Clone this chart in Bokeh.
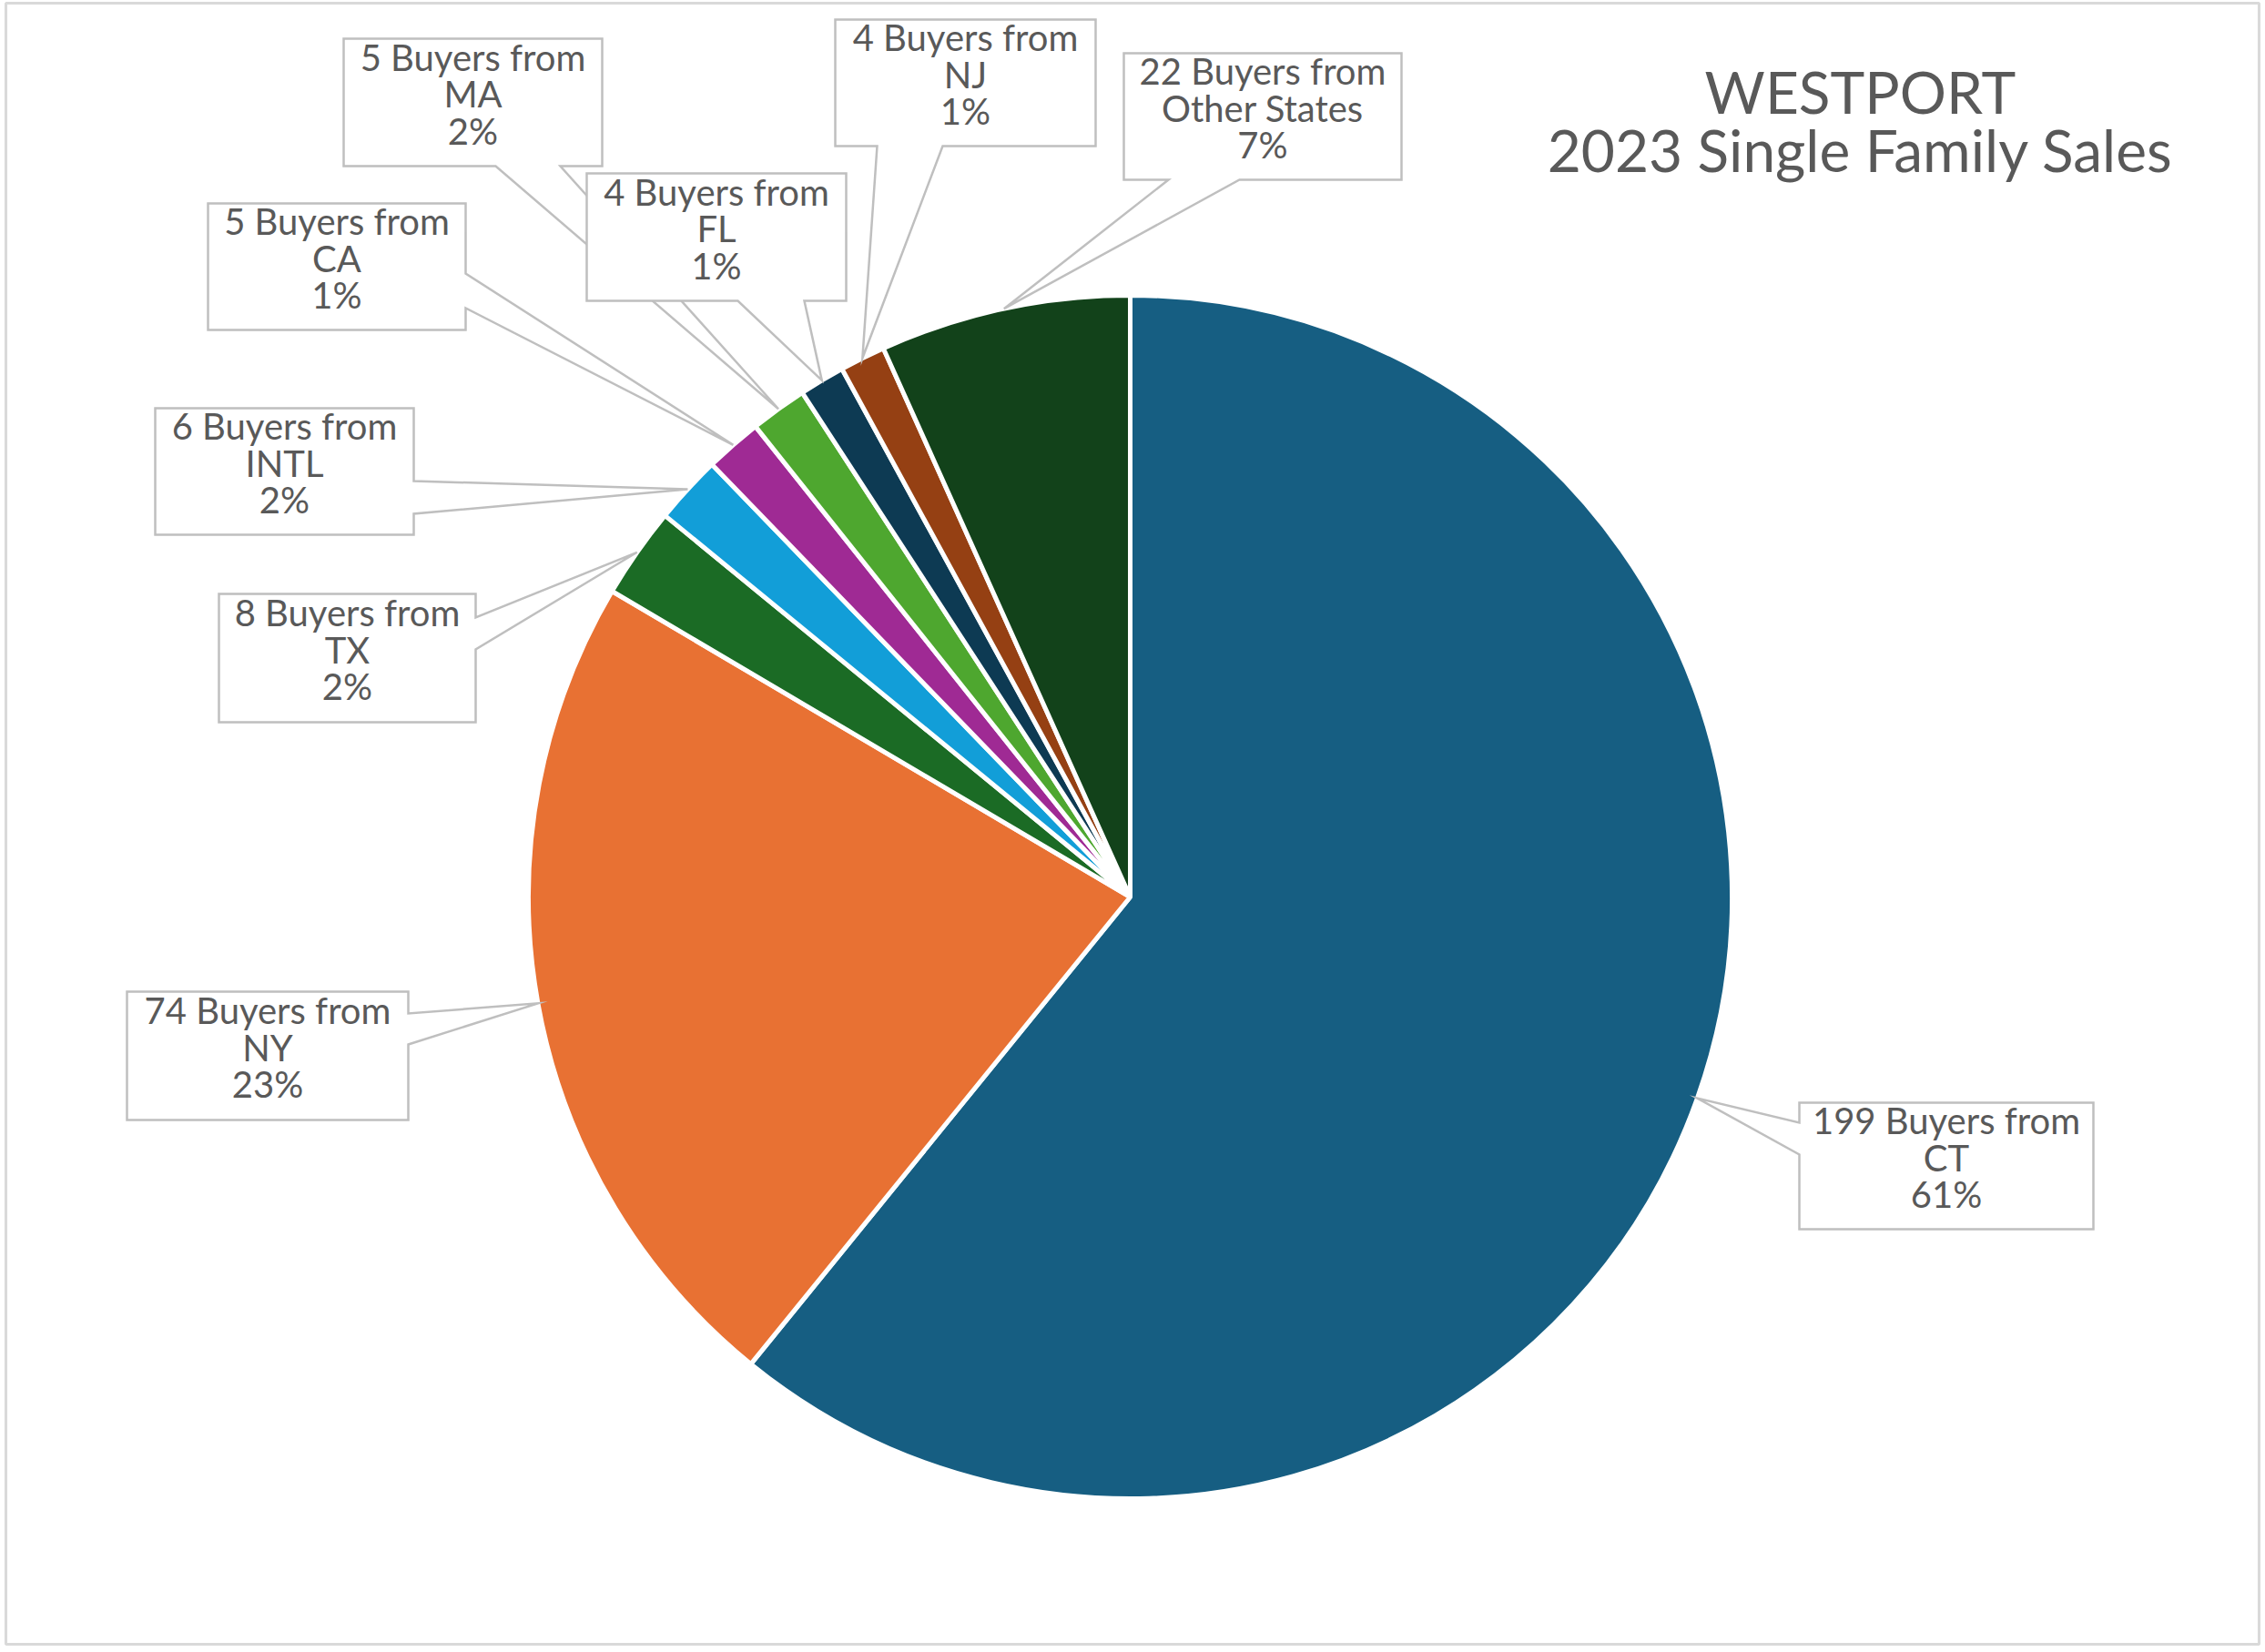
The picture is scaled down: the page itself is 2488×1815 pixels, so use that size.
import numpy as np
from bokeh.plotting import figure
from bokeh.models import Range1d, ColumnDataSource
from bokeh.core.properties import value
from bokeh.embed import file_html
from bokeh.resources import INLINE

# ---------------- data ----------------
regions = ["CT", "NY", "TX", "INTL", "CA", "MA", "FL", "NJ", "Other States"]
buyers = [199, 74, 8, 6, 5, 5, 4, 4, 22]
pct_labels = ["61%", "23%", "2%", "2%", "1%", "2%", "1%", "1%", "7%"]
colors = ["#165E82", "#E87133", "#1B6B25", "#129ED8", "#9F2A94",
          "#4EA72F", "#0D3A53", "#954013", "#12421A"]
title_lines = ["WESTPORT", "2023 Single Family Sales"]

# ---------------- layout (pixel coords, origin top-left) ----------------
W, H = 2488, 1815
CX, CY, R = 1241, 985, 661
FONT = "Lato"
TEXT_COLOR = "#595959"
BOX_COLOR = "#BFBFBF"

# box: (x0, y0, x1, y1), side of pointer, two attach coords
callouts = {
    "CT": ((1976, 1211, 2299, 1350), "left", (1233, 1268)),
    "NY": ((139, 1089, 448, 1230), "right", (1113, 1147)),
    "TX": ((240, 652, 522, 793), "right", (678, 713)),
    "INTL": ((170, 448, 454, 587), "right", (528, 564)),
    "CA": ((228, 223, 511, 362), "right", (300, 338)),
    "MA": ((377, 42, 661, 182), "bottom", (544, 615)),
    "FL": ((644, 190, 929, 330), "bottom", (810, 883)),
    "NJ": ((917, 21, 1203, 160), "bottom", (963, 1035)),
    "Other States": ((1234, 58, 1539, 197), "bottom", (1283, 1361)),
}
draw_order = ["CT", "NY", "TX", "INTL", "CA", "MA", "FL", "NJ", "Other States"]


def fy(py):
    return H - py


p = figure(width=W, height=H, output_backend="svg", toolbar_location=None,
           x_range=Range1d(0, W), y_range=Range1d(0, H), min_border=0,
           match_aspect=False)
p.axis.visible = False
p.grid.visible = False
p.outline_line_color = None
p.background_fill_color = "white"
p.border_fill_color = "white"

# outer chart border
p.quad(left=[6], right=[2481], top=[fy(3)], bottom=[fy(1806)],
       fill_color=None, line_color="#D9D9D9", line_width=3)

# ---------------- pie ----------------
vals = np.array(buyers, dtype=float)
frac = vals / vals.sum()
cum_end = np.cumsum(frac)
cum_start = cum_end - frac
start_angle = np.pi / 2 - cum_end * 2 * np.pi
end_angle = np.pi / 2 - cum_start * 2 * np.pi
mid = (cum_start + cum_end) / 2 * 2 * np.pi  # clockwise from 12 o'clock

src = ColumnDataSource(dict(x=[CX] * len(vals), y=[fy(CY)] * len(vals),
                            start=start_angle, end=end_angle, color=colors,
                            region=regions))
p.wedge(x="x", y="y", radius=R, start_angle="start", end_angle="end",
        fill_color="color", line_color="white", line_width=5, source=src)

# ---------------- callouts ----------------
tips = {reg: (CX + R * np.sin(m), CY - R * np.cos(m)) for reg, m in zip(regions, mid)}

for reg in draw_order:
    (x0, y0, x1, y1), side, (a1, a2) = callouts[reg]
    tx, ty = tips[reg]
    if side == "right":
        pts = [(x0, y0), (x1, y0), (x1, a1), (tx, ty), (x1, a2), (x1, y1), (x0, y1)]
    elif side == "left":
        pts = [(x0, y0), (x1, y0), (x1, y1), (x0, y1), (x0, a2), (tx, ty), (x0, a1)]
    else:
        pts = [(x0, y0), (x1, y0), (x1, y1), (a2, y1), (tx, ty), (a1, y1), (x0, y1)]
    p.patch([q[0] for q in pts], [fy(q[1]) for q in pts], fill_color="white",
            line_color=BOX_COLOR, line_width=2.5, line_join="miter")

    i = regions.index(reg)
    lines = [f"{buyers[i]} Buyers from", regions[i], pct_labels[i]]
    xc = (x0 + x1) / 2
    yc = (y0 + y1) / 2
    bl = [yc - 50, yc - 9.5, yc + 31]
    p.text(x=[xc] * 3, y=[fy(b) for b in bl], text=lines,
           text_font=value(FONT), text_font_size="40px", text_color=TEXT_COLOR,
           text_align="center", text_baseline="alphabetic")

# ---------------- title ----------------
p.text(x=[2043, 2043], y=[fy(100), fy(164)], text=title_lines,
       text_font=value(FONT), text_font_size="64px", text_color=TEXT_COLOR,
       text_align="center", text_baseline="alphabetic")

open("out.html", "w").write(file_html(p, INLINE))
